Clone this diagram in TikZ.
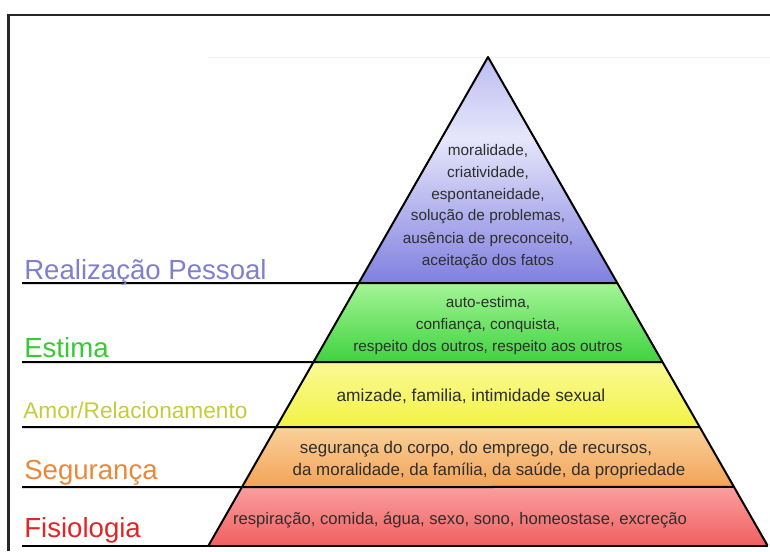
\documentclass[tikz,border=0pt]{standalone}
\usepackage{fontspec}
\setmainfont{Liberation Sans}
\usetikzlibrary{calc}
\definecolor{bluetop}{HTML}{BCBCF2}
\definecolor{bluemid}{HTML}{E6E6FB}
\definecolor{bluebot}{HTML}{8080E0}
\definecolor{greentop}{HTML}{A4F596}
\definecolor{greenbot}{HTML}{40D240}
\definecolor{yeltop}{HTML}{FAFA96}
\definecolor{yelbot}{HTML}{F2F244}
\definecolor{ortop}{HTML}{FAD09A}
\definecolor{orbot}{HTML}{F2A458}
\definecolor{redtop}{HTML}{FA9E9E}
\definecolor{redbot}{HTML}{F06060}
\definecolor{lblblue}{HTML}{7F7FCF}
\definecolor{lblgreen}{HTML}{33CC33}
\definecolor{lblyellow}{HTML}{C4CC3A}
\definecolor{lblorange}{HTML}{E8883A}
\definecolor{lblred}{HTML}{E02626}
\definecolor{txt}{HTML}{2E2E2E}
\pgfdeclareverticalshading{shblue}{100bp}{color(0bp)=(bluebot); color(25bp)=(bluebot); color(57bp)=(bluemid); color(75bp)=(bluetop); color(100bp)=(bluetop)}
\tikzset{
  band/.style={draw=none},
  divider/.style={line width=1.5pt, black},
  edge/.style={line width=1.5pt, black, line join=round},
  frame/.style={line width=1.6pt, black!85},
  intext/.style={font=\fontsize{11.5pt}{13pt}\selectfont, text=txt, inner sep=0pt, anchor=base},
  yeltext/.style={intext, font=\fontsize{13pt}{15pt}\selectfont},
  ortext/.style={intext, font=\fontsize{12.7pt}{15pt}\selectfont},
  redtext/.style={intext, font=\fontsize{12.5pt}{15pt}\selectfont},
  lbl/.style={font=\fontsize{20.7pt}{24pt}\selectfont, inner sep=0pt, anchor=base west},
  lblsmall/.style={font=\fontsize{17pt}{20pt}\selectfont, inner sep=0pt, anchor=base west}
}
\begin{document}
\begin{tikzpicture}[x=0.75pt,y=-0.75pt]
\useasboundingbox (0,0) rectangle (770,551);
% frame
\draw[frame] (8.5,551) -- (8.5,15) -- (770,15);
\draw[black!5, line width=0.75pt] (208,57) -- (770,57);
% pyramid corners
\coordinate (apex) at (488,57);
\coordinate (bl) at (208.5,545.5);
\coordinate (br) at (767.5,545.5);
\coordinate (l1) at ($(apex)!0.4627!(bl)$);
\coordinate (r1) at ($(apex)!0.4627!(br)$);
\coordinate (l2) at ($(apex)!0.6244!(bl)$);
\coordinate (r2) at ($(apex)!0.6244!(br)$);
\coordinate (l3) at ($(apex)!0.7574!(bl)$);
\coordinate (r3) at ($(apex)!0.7574!(br)$);
\coordinate (l4) at ($(apex)!0.8802!(bl)$);
\coordinate (r4) at ($(apex)!0.8802!(br)$);
% bands
\shade[band, shading=shblue] (apex) -- (r1) -- (l1) -- cycle;
\shade[band, top color=greentop, bottom color=greenbot] (l1) -- (r1) -- (r2) -- (l2) -- cycle;
\shade[band, top color=yeltop, bottom color=yelbot] (l2) -- (r2) -- (r3) -- (l3) -- cycle;
\shade[band, top color=ortop, bottom color=orbot] (l3) -- (r3) -- (r4) -- (l4) -- cycle;
\shade[band, top color=redtop, bottom color=redbot] (l4) -- (r4) -- (br) -- (bl) -- cycle;
% dividers
\coordinate (d1) at (22,283);
\coordinate (d2) at (22,362);
\coordinate (d3) at (22,427);
\coordinate (d4) at (22,487);
\coordinate (d5) at (22,545.5);
\draw[divider] (d1) -- (r1);
\draw[divider] (d2) -- (r2);
\draw[divider] (d3) -- (r3);
\draw[divider] (d4) -- (r4);
\draw[divider] (d5) -- (br);
\draw[edge] (bl) -- (apex) -- (br);
% labels
\node[lbl, text=lblblue] (lab1) at (24,279) {Realização Pessoal};
\node[lbl, text=lblgreen] (lab2) at (24,357) {Estima};
\node[lblsmall, text=lblyellow] (lab3) at (23,418) {Amor/Relacionamento};
\node[lbl, text=lblorange] (lab4) at (24,479) {Segurança};
\node[lbl, text=lblred] (lab5) at (24,537) {Fisiologia};
% inner texts
\node[intext] (b1) at (488,155) {moralidade,};
\node[intext] (b2) at (488,177) {criatividade,};
\node[intext] (b3) at (488,199) {espontaneidade,};
\node[intext] (b4) at (488,220.5) {solução de problemas,};
\node[intext] (b5) at (488,243) {ausência de preconceito,};
\node[intext] (b6) at (488,265) {aceitação dos fatos};
\node[intext] (g1) at (488,307) {auto-estima,};
\node[intext] (g2) at (488,329.5) {confiança, conquista,};
\node[intext] (g3) at (488,351) {respeito dos outros, respeito aos outros};
\node[yeltext] (y1) at (471,401.5) {amizade, familia, intimidade sexual};
\node[ortext] (o1) at (476,453.5) {segurança do corpo, do emprego, de recursos,};
\node[ortext] (o2) at (489,475.5) {da moralidade, da família, da saúde, da propriedade};
\node[redtext] (r1t) at (460,524) {respiração, comida, água, sexo, sono, homeostase, excreção};
\end{tikzpicture}
\end{document}
